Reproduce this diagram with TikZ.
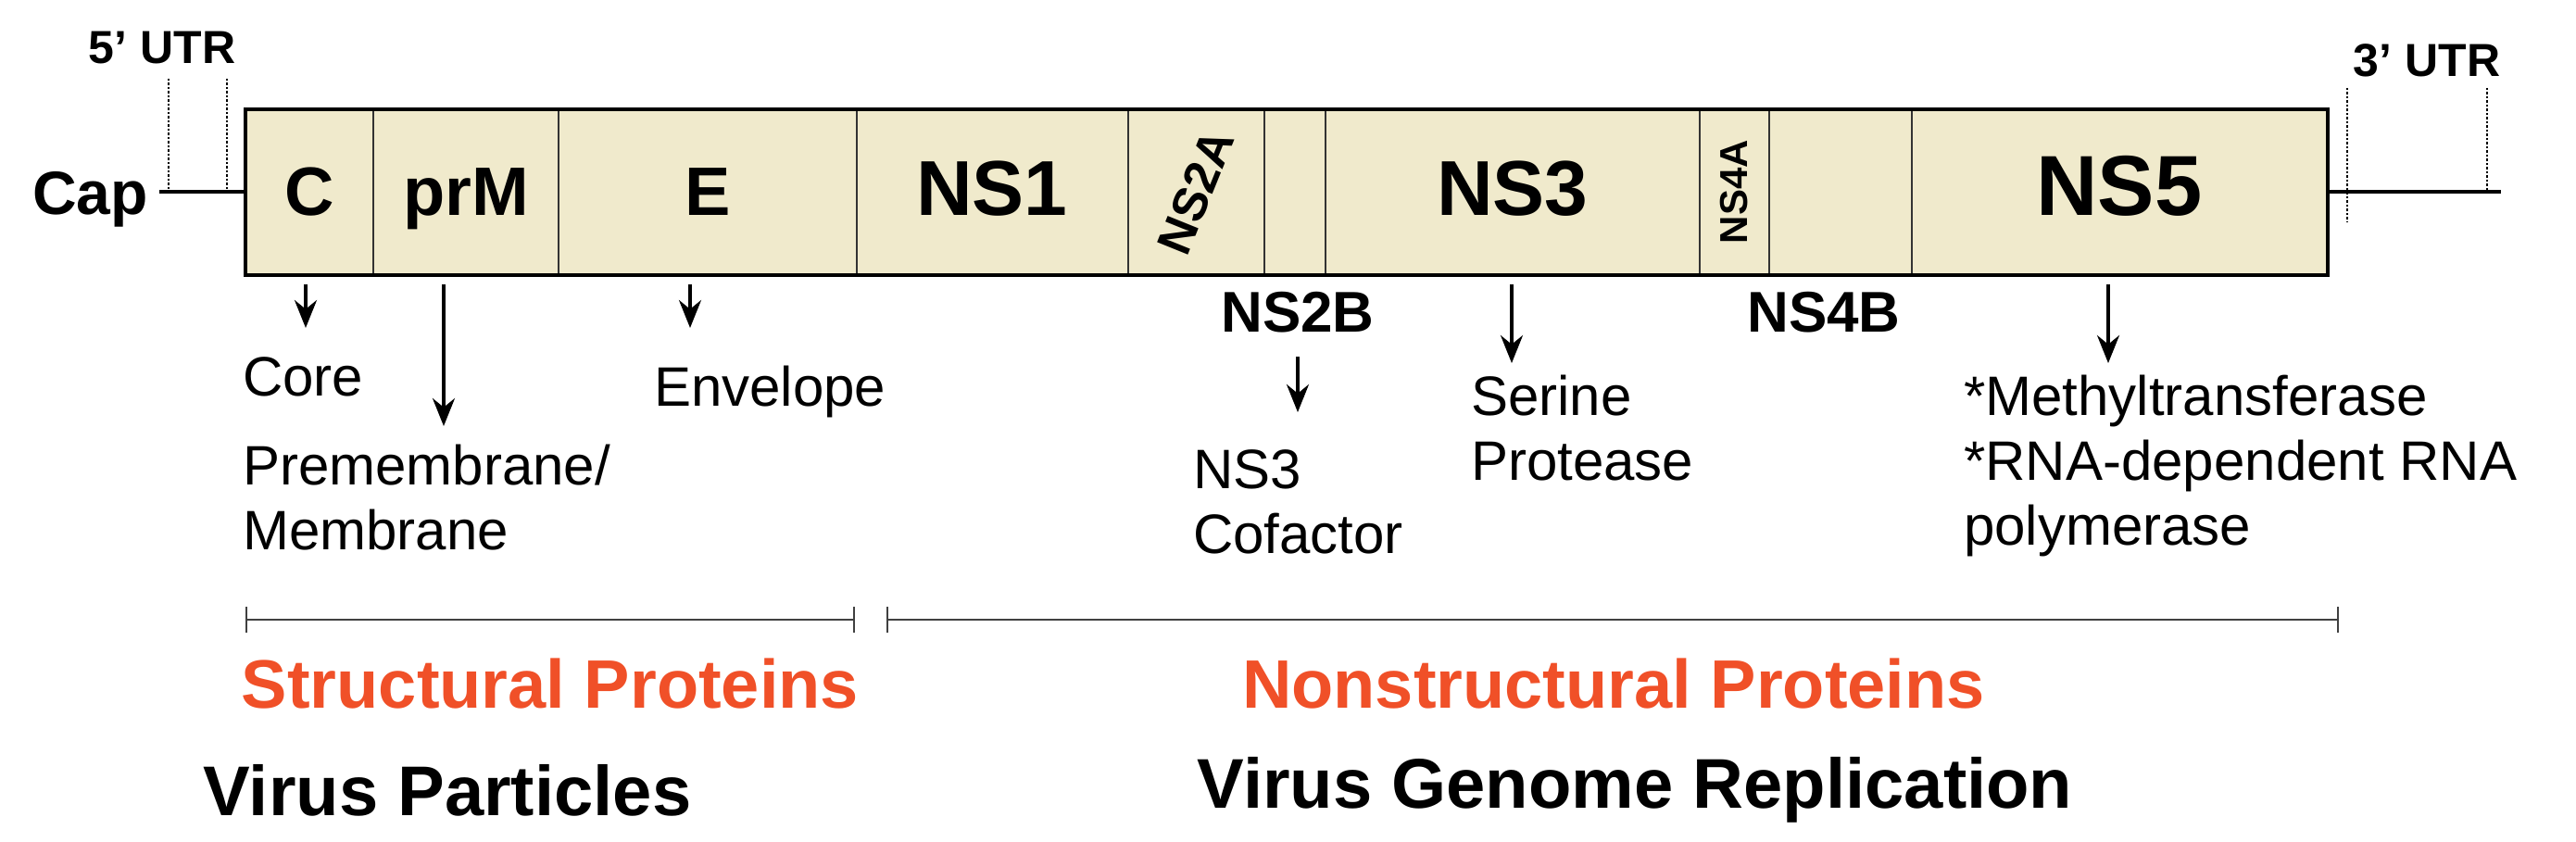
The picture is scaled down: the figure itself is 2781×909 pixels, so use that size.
\documentclass[tikz,border=0pt]{standalone}
\usepackage{fontspec}
\setmainfont{Liberation Sans}
\usetikzlibrary{arrows.meta}
\definecolor{boxfill}{RGB}{240,234,204}
\definecolor{redlab}{RGB}{240,80,40}
\begin{document}
\begin{tikzpicture}[x=1pt,y=-1pt,
  seg/.style={draw=black!80,line width=2pt},
  lab/.style={font=\fontsize{#1}{#1}\selectfont\bfseries,inner sep=0},
  blab/.style={font=\fontsize{#1}{#1}\selectfont\bfseries,inner sep=0,anchor=base},
  desc/.style={font=\fontsize{60}{70}\selectfont,inner sep=0,anchor=north west,align=left},
  arr/.style={-{Stealth[length=30pt,width=24pt]},line width=3.5pt},
  utr/.style={dotted,line width=2.5pt}]
\useasboundingbox (0,0) rectangle (2781,909);
% genome box
\fill[boxfill] (265,118) rectangle (2513,297);
\foreach \x in {403,603,925,1218,1365,1431,1835,1910,2064}
  \draw[seg] (\x,118) -- (\x,297);
\draw[line width=4.5pt] (265,118) rectangle (2513,297);
\coordinate (boxL) at (265,207);
\coordinate (boxR) at (2513,207);
\coordinate (capend) at (172,207);
\coordinate (tailend) at (2700,207);
\draw[line width=4pt] (capend) -- (boxL);
\draw[line width=4pt] (boxR) -- (tailend);
\node[blab=66,anchor=base east] (cap) at (160,232) {Cap};
% UTR
\node[lab=50] (utr5) at (175,52) {5’ UTR};
\node[lab=50] (utr3) at (2620,65) {3’ UTR};
\draw[utr] (182,85) -- (182,207);
\draw[utr] (245,85) -- (245,207);
\draw[utr] (2534,95) -- (2534,240);
\draw[utr] (2685,95) -- (2685,207);
% segment labels
\node[blab=74] (C) at (334,233) {C};
\node[blab=74] (prM) at (503,233) {prM};
\node[blab=74] (E) at (764,233) {E};
\node[blab=84] (NS1) at (1071,233) {NS1};
\node[font=\fontsize{52}{52}\selectfont\bfseries,inner sep=0,rotate=68] (NS2A) at (1291,207) {NS2A};
\node[blab=84] (NS3) at (1633,233) {NS3};
\node[lab=42,rotate=90] (NS4A) at (1872,207) {NS4A};
\node[blab=92] (NS5) at (2288,233) {NS5};
\node[lab=62] (NS2B) at (1401,337) {NS2B};
\node[lab=62] (NS4B) at (1969,337) {NS4B};
% descriptions
\node[desc] (core) at (262,385) {Core};
\node[desc] (prem) at (262,480) {Premembrane/\\Membrane};
\node[desc] (env) at (706,395) {Envelope};
\node[desc] (cof) at (1288,485) {NS3\\Cofactor};
\node[desc] (ser) at (1588,405) {Serine\\Protease};
\node[desc] (ns5d) at (2120,405) {*Methyltransferase\\*RNA-dependent RNA\\polymerase};
% arrows
\draw[arr] (330,307) -- (330,354);
\draw[arr] (479,307) -- (479,460);
\draw[arr] (745,307) -- (745,354);
\draw[arr] (1401,385) -- (1401,445);
\draw[arr] (1632,307) -- (1632,392);
\draw[arr] (2276,307) -- (2276,392);
% brackets
\draw[line width=2.5pt,black!75] (266,669) -- (922,669) (266,655) -- (266,683) (922,655) -- (922,683);
\draw[line width=2.5pt,black!75] (958,669) -- (2524,669) (958,655) -- (958,683) (2524,655) -- (2524,683);
\node[lab=74,text=redlab] (sp) at (594,738) {Structural Proteins};
\node[lab=74,text=redlab] (nsp) at (1742,738) {Nonstructural Proteins};
\node[lab=76] (vp) at (483,853) {Virus Particles};
\node[lab=76] (vgr) at (1765,853) {Virus Genome Replication};
\end{tikzpicture}
\end{document}
